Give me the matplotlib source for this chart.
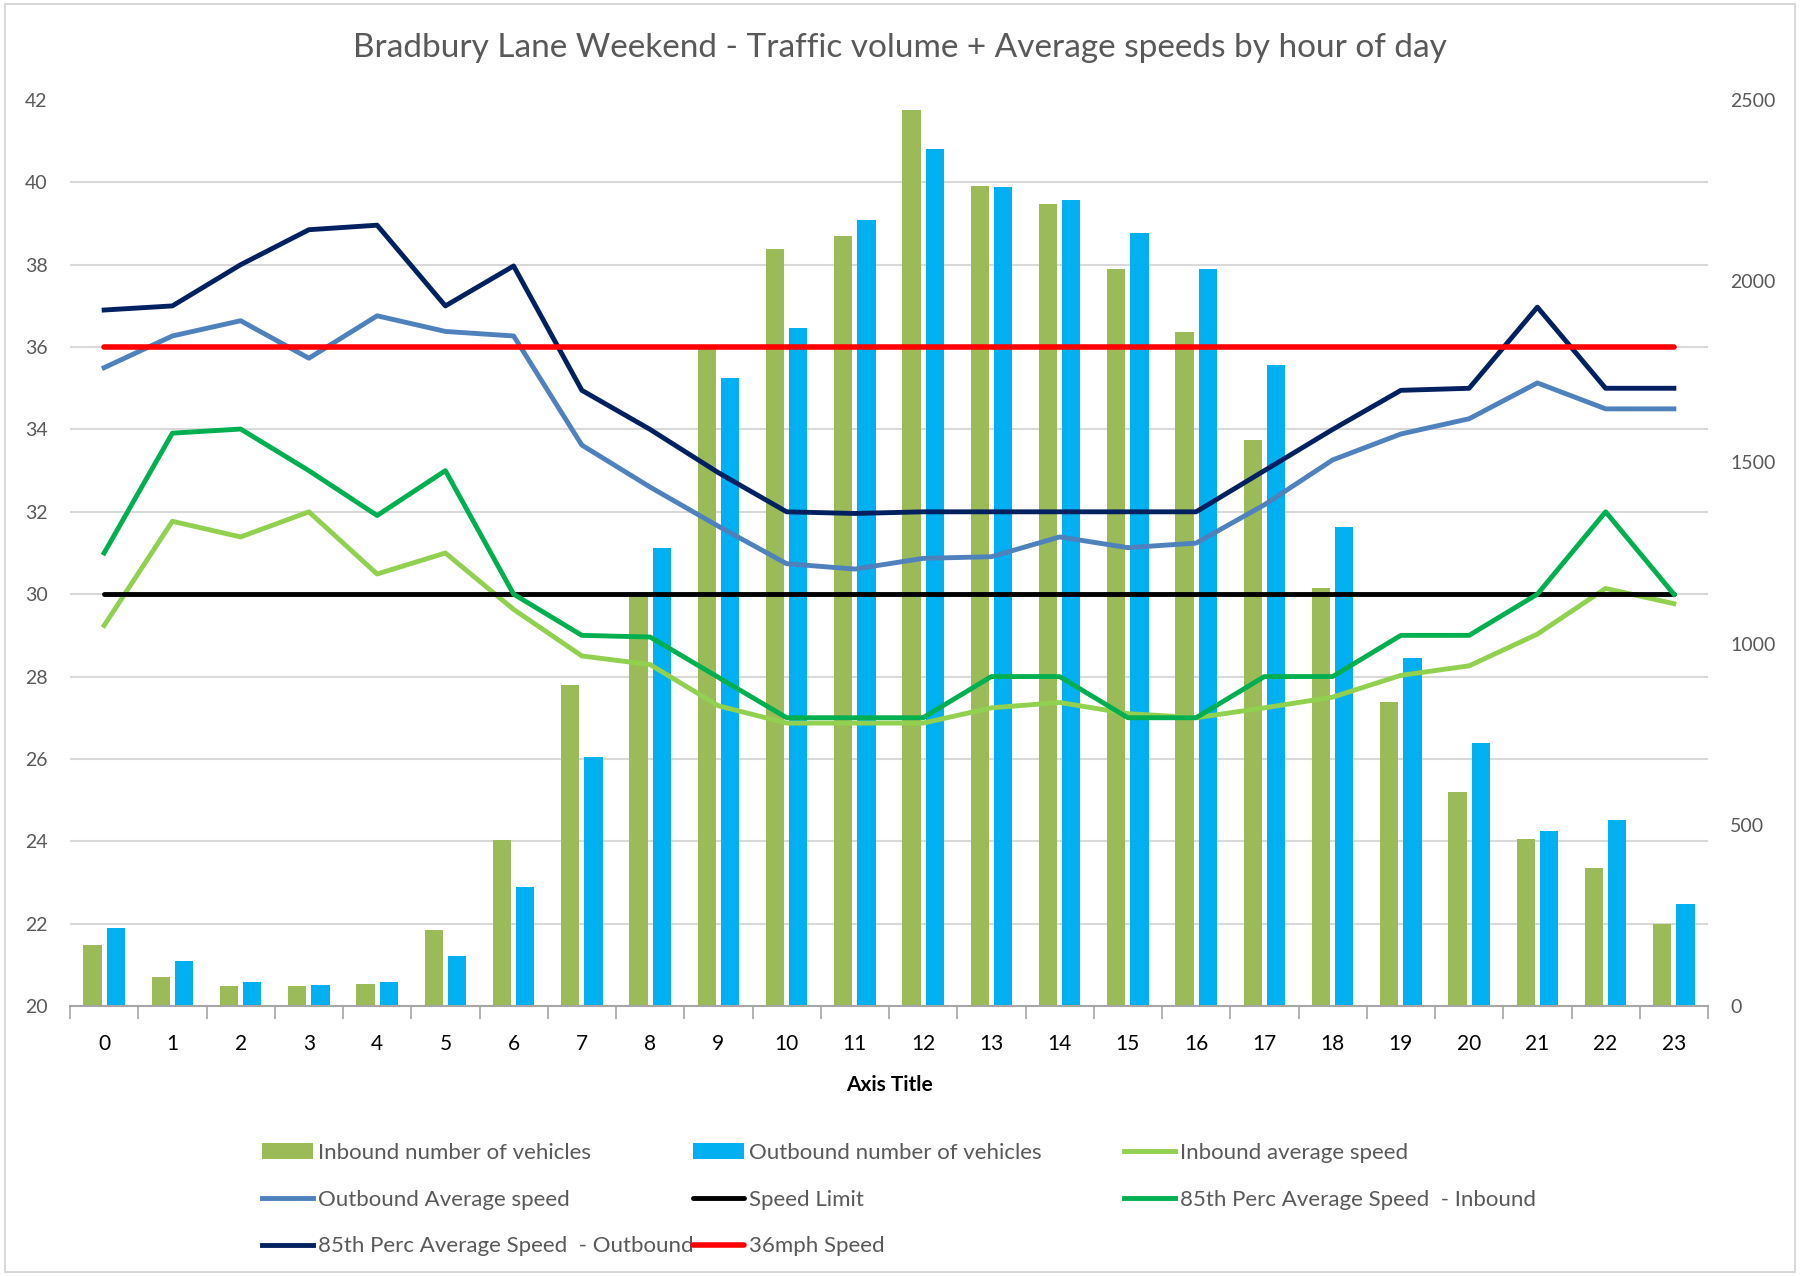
import numpy as np
import matplotlib.pyplot as plt
from matplotlib.patches import Rectangle

plt.rcParams['font.family'] = ['Lato', 'DejaVu Sans']

# Datos
horas = list(range(24))
inbound_veh = [168, 81, 54, 56, 62, 210, 459, 886, 1142, 1818, 2090, 2125, 2472, 2264, 2214,
               2033, 1859, 1562, 1153, 840, 590, 461, 381, 225]
outbound_veh = [214, 125, 66, 57, 65, 137, 327, 686, 1265, 1734, 1871, 2169, 2365, 2260, 2224,
                2133, 2033, 1770, 1321, 961, 725, 482, 514, 281]
inbound_avg = [29.24, 31.77, 31.39, 32.0, 30.49, 31.0, 29.63, 28.5, 28.29, 27.29, 26.87, 26.87,
               26.87, 27.24, 27.37, 27.1, 27.0, 27.24, 27.5, 28.03, 28.26, 29.03, 30.14, 29.77]
outbound_avg = [35.5, 36.27, 36.64, 35.73, 36.76, 36.38, 36.27, 33.62, 32.6, 31.65, 30.74, 30.61,
                30.87, 30.91, 31.39, 31.13, 31.24, 32.17, 33.26, 33.89, 34.26, 35.13, 34.5, 34.5]
perc85_in = [31.0, 33.91, 34.01, 33.0, 31.91, 33.0, 30.0, 29.0, 28.96, 27.98, 27.0, 27.0,
             27.0, 28.0, 28.0, 27.0, 27.0, 28.0, 28.0, 29.0, 29.0, 30.0, 32.0, 30.0]
perc85_out = [36.9, 37.0, 38.0, 38.85, 38.96, 37.0, 37.97, 34.95, 34.0, 32.95, 32.0, 31.96,
              32.0, 32.0, 32.0, 32.0, 32.0, 33.0, 34.0, 34.95, 35.0, 36.97, 35.0, 35.0]
speed_limit = [30] * 24
speed_36 = [36] * 24

gris = '#595959'

fig = plt.figure(figsize=(18, 12.76), dpi=100)
ax2 = fig.add_axes([70/1800, 1 - 1006/1276, (1708 - 70)/1800, (1006 - 100)/1276])
ax = ax2.twinx()

x = np.array(horas)
w = 0.27
b1 = ax2.bar(x - 0.17, inbound_veh, width=w, color='#9BBB59', label='Inbound number of vehicles')
b2 = ax2.bar(x + 0.17, outbound_veh, width=w, color='#00B0F0', label='Outbound number of vehicles')

lw = 3.5
l1, = ax.plot(x, inbound_avg, color='#92D050', lw=lw, label='Inbound average speed')
l2, = ax.plot(x, outbound_avg, color='#4F81BD', lw=lw, label='Outbound Average speed')
l3, = ax.plot(x, speed_limit, color='black', lw=lw, label='Speed Limit', solid_capstyle='round')
l4, = ax.plot(x, perc85_in, color='#00B050', lw=lw, label='85th Perc Average Speed  - Inbound')
l5, = ax.plot(x, perc85_out, color='#002060', lw=lw, label='85th Perc Average Speed  - Outbound')
l6, = ax.plot(x, speed_36, color='#FF0000', lw=lw + 0.5, label='36mph Speed', solid_capstyle='round')

# Eje de barras (derecha) con la rejilla por debajo
ax2.set_ylim(0, 2500)
ax2.set_xlim(-0.5, 23.5)
ax2.yaxis.tick_right()
ax2.set_yticks([0, 500, 1000, 1500, 2000, 2500])
ax2.set_yticks(np.linspace(0, 2500, 12), minor=True)
ax2.grid(axis='y', which='minor', color='#D9D9D9', lw=1.5)
ax2.set_axisbelow(True)
ax2.tick_params(axis='y', which='both', length=0, labelsize=14, labelcolor=gris, pad=16)
for lab in ax2.get_yticklabels():
    lab.set_horizontalalignment('left')

# Eje de velocidades (izquierda)
ax.set_ylim(20, 42)
ax.yaxis.tick_left()
ax.set_yticks(range(20, 43, 2))
ax.tick_params(axis='y', length=0, labelsize=14, labelcolor=gris, pad=16)

ax2.set_xticks(horas)
ax2.set_xticks(np.arange(-0.5, 24, 1), minor=True)
ax2.tick_params(axis='x', which='major', length=0, labelsize=15, labelcolor='black', pad=20)
ax2.tick_params(axis='x', which='minor', length=9, width=1.2, color='#A6A6A6')
ax2.set_xlabel('Axis Title', fontsize=15, fontweight='bold', labelpad=15)

for a in (ax, ax2):
    for s in ('top', 'right', 'left'):
        a.spines[s].set_visible(False)
ax.spines['bottom'].set_visible(False)
ax2.spines['bottom'].set_color('#A6A6A6')
ax2.spines['bottom'].set_linewidth(1.5)

fig.text(0.5, 1 - 48/1276, 'Bradbury Lane Weekend - Traffic volume + Average speeds by hour of day',
         ha='center', va='center', fontsize=24, color=gris)

# Leyenda en tres columnas
columnas = [[b1, l2, l5], [b2, l3, l6], [l1, l4]]
xs = [262, 693, 1124]
for hs, xc in zip(columnas, xs):
    fig.legend(handles=hs, labels=[h.get_label() for h in hs], loc='upper left',
               bbox_to_anchor=(xc/1800, 1 - 1143/1276), frameon=False, fontsize=16,
               labelcolor=gris, handlelength=2.3, handletextpad=0.2, labelspacing=1.2,
               borderpad=0, borderaxespad=0)

fig.patches.append(Rectangle((0.003, 0.003), 0.994, 0.994, transform=fig.transFigure,
                             fill=False, ec='#D9D9D9', lw=1.5))

fig.savefig('out.png', dpi=100)
